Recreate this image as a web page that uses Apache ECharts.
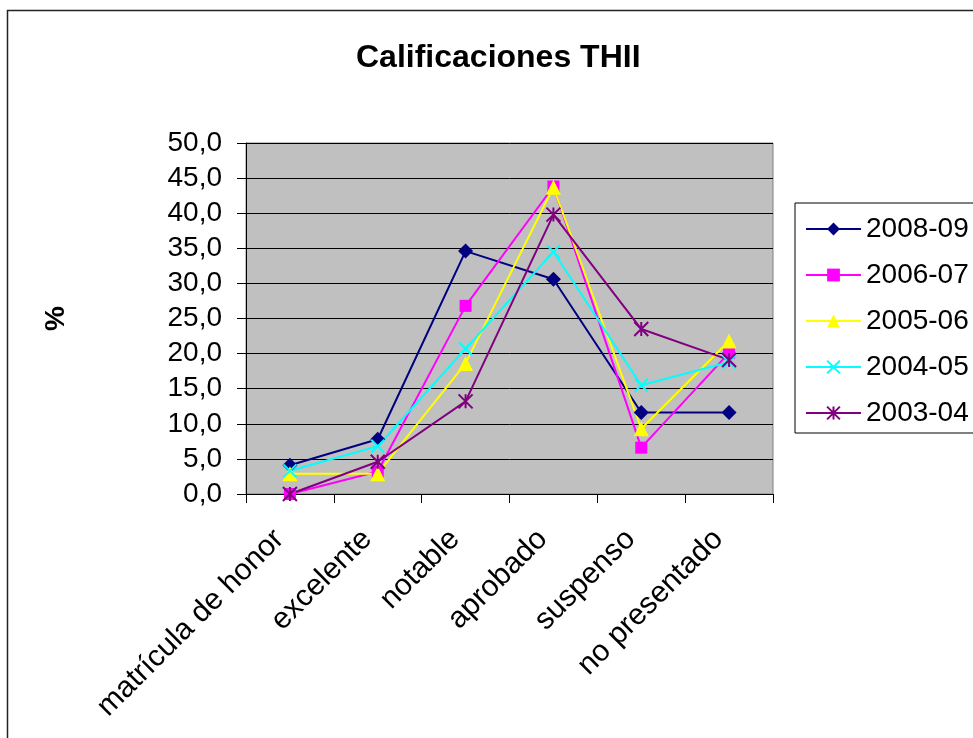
<!DOCTYPE html>
<html>
<head>
<meta charset="utf-8">
<script src="https://cdn.jsdelivr.net/npm/echarts@6/dist/echarts.min.js"></script>
<style>
html,body{margin:0;padding:0;background:#fff;}
#chart{width:973px;height:738px;}
</style>
</head>
<body>
<div id="chart"></div>
<script>
var categories = ['matrícula de honor', 'excelente', 'notable', 'aprobado', 'suspenso', 'no presentado'];
var seriesNames = ['2008-09', '2006-07', '2005-06', '2004-05', '2003-04'];
var s2008 = [4.1, 7.8, 34.6, 30.6, 11.6, 11.6];
var s2006 = [0.0, 3.2, 26.8, 43.8, 6.6, 20.1];
var s2005 = [2.9, 2.9, 18.6, 43.7, 9.3, 21.8];
var s2004 = [3.3, 6.8, 20.7, 34.5, 15.5, 18.8];
var s2003 = [0.0, 4.6, 13.2, 39.8, 23.5, 19.1];
var yTicks = [0, 5, 10, 15, 20, 25, 30, 35, 40, 45, 50];

var FONT = "'Liberation Sans', Arial, sans-serif";
var colors = ['#000080', '#FF00FF', '#FFFF00', '#00FFFF', '#800080'];
var dataSets = [s2008, s2006, s2005, s2004, s2003];
var symbols = [
  {symbol: 'diamond', size: 15, filled: true},
  {symbol: 'rect', size: 12, filled: true},
  {symbol: 'triangle', size: 15, filled: true},
  {symbol: 'path://M0,0L10,10M10,0L0,10', size: 13, filled: false},
  {symbol: 'path://M0,0L10,10M10,0L0,10M5,0L5,10', size: 14, filled: false}
];

var series = seriesNames.map(function (name, i) {
  var sym = symbols[i];
  return {
    name: name,
    type: 'line',
    data: dataSets[i],
    symbol: sym.symbol,
    symbolSize: sym.size,
    showAllSymbol: true,
    lineStyle: {color: colors[i], width: 2},
    itemStyle: sym.filled ? {color: colors[i], borderWidth: 0} :
      {color: 'rgba(0,0,0,0)', borderColor: colors[i], borderWidth: 2},
    emphasis: {disabled: true},
    animation: false
  };
});

var chart = echarts.init(document.getElementById('chart'), null, {renderer: 'canvas'});
chart.setOption({
  animation: false,
  textStyle: {fontFamily: FONT},
  title: {
    text: 'Calificaciones THII',
    left: 356, top: 42,
    padding: 0,
    textStyle: {fontSize: 32, fontWeight: 'bold', color: '#000', fontFamily: FONT}
  },
  graphic: [{
    type: 'rect',
    shape: {x: 7.5, y: 10.5, width: 1100, height: 900},
    style: {fill: 'none', stroke: '#222', lineWidth: 1.5},
    silent: true, z: -10
  }],
  legend: {
    orient: 'vertical',
    left: 795, top: 203,
    padding: [12, 40, 6, 10],
    itemWidth: 55, itemHeight: 16, itemGap: 18,
    borderColor: '#000', borderWidth: 1,
    backgroundColor: '#fff',
    textStyle: {fontSize: 28, color: '#000', lineHeight: 28, fontFamily: FONT},
    data: seriesNames
  },
  grid: {
    left: 246, right: 200, top: 143, bottom: 244,
    show: true, backgroundColor: '#C0C0C0', borderColor: '#808080', borderWidth: 1
  },
  xAxis: {
    type: 'category',
    data: categories,
    boundaryGap: true,
    axisLine: {show: true, lineStyle: {color: '#000', width: 1}},
    axisTick: {show: true, length: 9, alignWithLabel: false, lineStyle: {color: '#000'}},
    axisLabel: {rotate: 45, fontSize: 30, color: '#000', margin: 30, interval: 0, fontFamily: FONT,
      padding: [0, 15, 0, 0]},
    splitLine: {show: false}
  },
  yAxis: {
    type: 'value',
    min: yTicks[0], max: yTicks[yTicks.length - 1], interval: yTicks[1] - yTicks[0],
    name: '%',
    nameLocation: 'middle',
    nameRotate: 90,
    nameGap: 176,
    nameTextStyle: {fontSize: 28, fontWeight: 'bold', color: '#000', fontFamily: FONT},
    axisLine: {show: true, lineStyle: {color: '#000', width: 1}},
    axisTick: {show: true, length: 9, lineStyle: {color: '#000'}},
    axisLabel: {fontSize: 28, color: '#000', margin: 24, fontFamily: FONT,
      formatter: function (v) { return v.toFixed(1).replace('.', ','); }},
    splitLine: {show: true, lineStyle: {color: '#000', width: 1}}
  },
  series: series
});
</script>
</body>
</html>
